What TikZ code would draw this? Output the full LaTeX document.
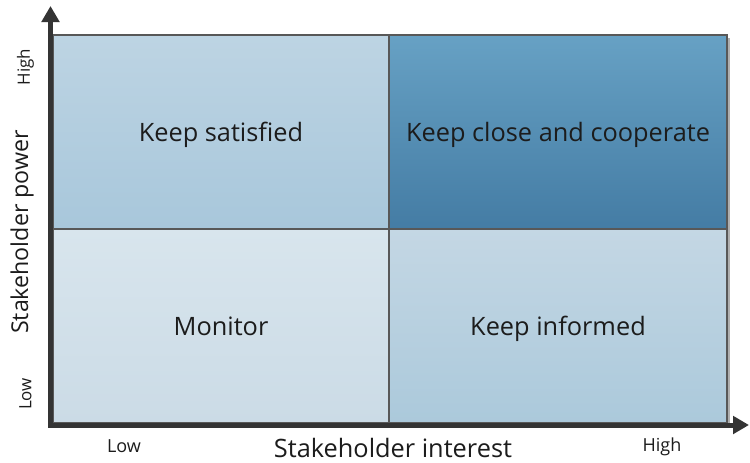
\documentclass[tikz,border=0pt]{standalone}
\usepackage{fontspec}
\setmainfont{Open Sans}
\usetikzlibrary{arrows.meta}
\definecolor{gridline}{RGB}{88,88,88}
\definecolor{axisgray}{RGB}{52,52,52}
\definecolor{shadowgray}{RGB}{175,175,175}
\definecolor{celltext}{RGB}{28,28,28}
\definecolor{satTop}{RGB}{189,212,227}
\definecolor{satBot}{RGB}{168,199,219}
\definecolor{closeTop}{RGB}{103,161,196}
\definecolor{closeBot}{RGB}{68,124,164}
\definecolor{monTop}{RGB}{216,229,237}
\definecolor{monBot}{RGB}{203,219,230}
\definecolor{infTop}{RGB}{196,215,228}
\definecolor{infBot}{RGB}{171,201,219}
\begin{document}
\begin{tikzpicture}[x=.75pt,y=-.75pt,
  cell/.style={draw=gridline,line width=.9pt,inner sep=0pt,outer sep=0pt,anchor=north west,
    minimum height=145.5pt,text depth=0pt,text=celltext,font=\fontsize{19}{22}\selectfont},
  axis/.style={draw=axisgray,line width=3.75pt,
    {Triangle[width=13pt,length=12pt]}-{Triangle[width=13pt,length=12pt]}},
  axislabel/.style={text=celltext,inner sep=0pt},
  ticklabel/.style={text=celltext,inner sep=0pt,font=\fontsize{13.5}{16}\selectfont}]
\path[use as bounding box] (0,0) rectangle (750,462);
\fill[white] (0,0) rectangle (750,462);
% drop shadow of the grid
\fill[shadowgray] (56,38) rectangle (730,426);
% quadrants
\node[cell,minimum width=252pt,top color=satTop,bottom color=satBot] (satisfied) at (53,35) {Keep satisfied};
\node[cell,minimum width=253.5pt,top color=closeTop,bottom color=closeBot] (close) at (389,35) {Keep close and cooperate};
\node[cell,minimum width=252pt,top color=monTop,bottom color=monBot] (monitor) at (53,229) {Monitor};
\node[cell,minimum width=253.5pt,top color=infTop,bottom color=infBot] (informed) at (389,229) {Keep informed};
% axes
\coordinate (ytip) at (50.5,6);
\coordinate (origin) at (50.5,425);
\coordinate (xtip) at (749,425);
\draw[axis] (ytip) -- (origin) -- (xtip);
% labels
\node[ticklabel] (xlow) at (124,446) {Low};
\node[ticklabel] (xhigh) at (662,446.5) {High};
\node[axislabel,font=\fontsize{19}{22}\selectfont] (interest) at (393,448) {Stakeholder interest};
\node[axislabel,rotate=90,font=\fontsize{17.4}{20}\selectfont] (power) at (22,232) {Stakeholder power};
\node[ticklabel,rotate=90,font=\fontsize{12.7}{15}\selectfont] (yhigh) at (25.5,67) {High};
\node[ticklabel,rotate=90,font=\fontsize{12.7}{15}\selectfont] (ylow) at (25.5,394) {Low};
\end{tikzpicture}
\end{document}
